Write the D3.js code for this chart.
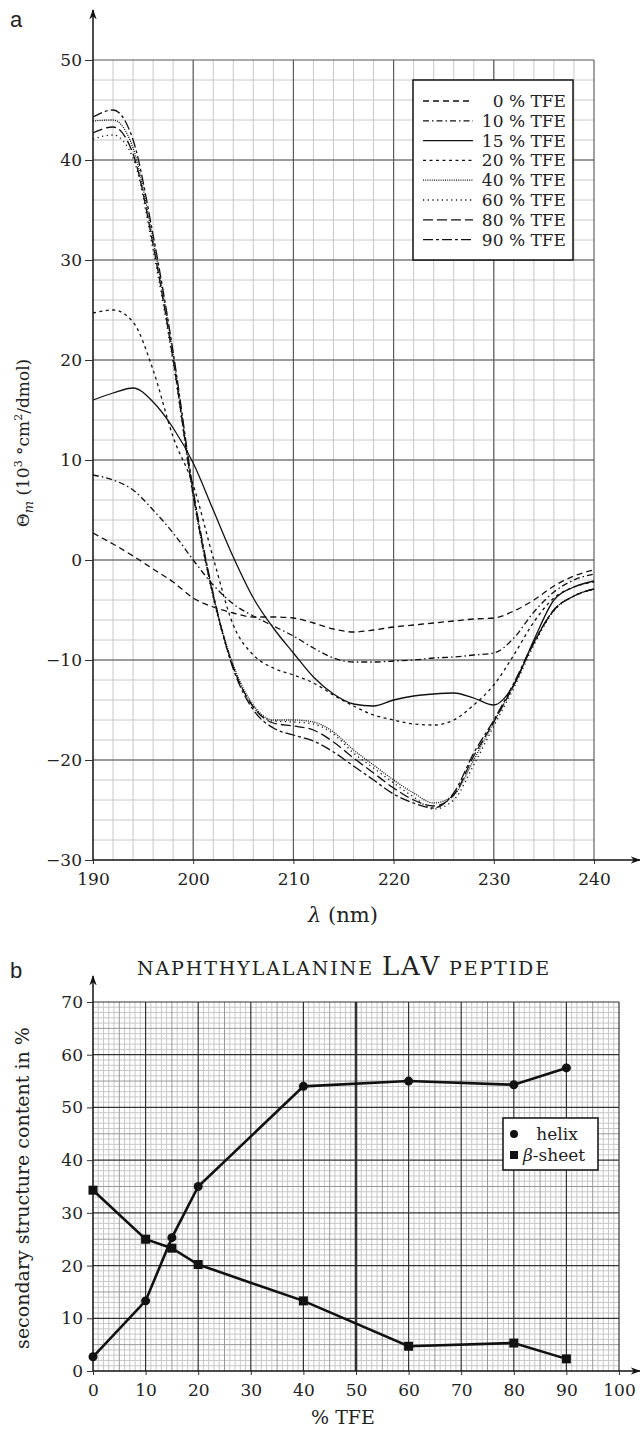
<!DOCTYPE html>
<html>
<head>
<meta charset="utf-8">
<script src="https://cdn.jsdelivr.net/npm/d3@7"></script>
<style>
  body { margin: 0; background: #fff; }
  svg text { font-family: "DejaVu Serif", serif; fill: #222; }
</style>
</head>
<body>
<svg id="chart" width="640" height="1432"></svg>
<script>
// ---- panel a: CD spectra ----
const wavelengths = [190,192,194,196,198,200,202,204,206,208,210,212,214,216,218,220,222,224,226,228,230,232,234,236,238,240];
const tfe0  = [2.7,1.6,0.4,-0.9,-2.2,-3.8,-4.7,-5.3,-5.7,-5.7,-5.8,-6.3,-6.9,-7.2,-7.0,-6.7,-6.5,-6.3,-6.1,-5.9,-5.8,-5.1,-4.0,-2.6,-1.6,-1.0];
const tfe10 = [8.5,8.0,7.0,5.0,2.7,0.0,-2.5,-4.4,-5.6,-6.6,-7.6,-8.8,-9.8,-10.2,-10.2,-10.1,-10.0,-9.8,-9.7,-9.5,-9.3,-7.8,-5.2,-3.2,-2.0,-1.4];
const tfe15 = [16.0,16.7,17.2,15.8,13.2,9.7,5.0,0.3,-3.8,-6.8,-9.3,-11.7,-13.4,-14.4,-14.6,-14.0,-13.6,-13.4,-13.3,-13.8,-14.5,-12.5,-8.0,-4.0,-2.7,-2.1];
const tfe20 = [24.7,25.0,23.8,19.0,12.3,7.5,0.2,-6.5,-9.5,-10.8,-11.5,-12.3,-13.5,-14.6,-15.5,-16.0,-16.4,-16.5,-16.0,-14.5,-12.5,-9.5,-6.2,-3.8,-2.7,-2.2];
const tfe40 = [43.9,44.0,41.2,32.0,20.5,6.8,-3.5,-10.5,-14.5,-16.0,-16.0,-16.2,-17.2,-19.0,-20.5,-22.0,-23.3,-24.3,-23.5,-20.0,-16.2,-12.5,-8.3,-5.0,-3.6,-2.9];
const tfe60 = [42.1,42.5,40.2,31.0,19.7,6.3,-3.8,-10.8,-14.7,-16.1,-16.2,-16.4,-17.4,-19.3,-20.8,-22.3,-23.7,-24.9,-24.0,-20.5,-16.6,-12.8,-8.5,-5.1,-3.6,-2.9];
const tfe80 = [42.7,43.3,40.6,31.5,20.0,6.5,-3.6,-10.7,-14.7,-16.3,-16.6,-17.0,-18.2,-19.8,-21.3,-22.8,-24.0,-24.6,-23.5,-19.6,-16.2,-12.5,-8.3,-5.0,-3.6,-2.9];
const tfe90 = [44.3,45.0,42.0,32.5,20.8,7.0,-3.4,-10.9,-15.0,-16.8,-17.5,-18.1,-19.2,-20.6,-22.0,-23.4,-24.3,-24.8,-23.3,-19.3,-16.0,-12.3,-8.2,-5.0,-3.6,-2.9];
const spectraLabels = ["0 % TFE","10 % TFE","15 % TFE","20 % TFE","40 % TFE","60 % TFE","80 % TFE","90 % TFE"];
const spectraValues = [tfe0, tfe10, tfe15, tfe20, tfe40, tfe60, tfe80, tfe90];
const dashes = ["6,4", "6,3,1.5,3", null, "3,3.5", "1,1.2", "1.2,3.5", "10,4", "10,3,3,3"];
const xTicksA = [190,200,210,220,230,240];
const yTicksA = [-30,-20,-10,0,10,20,30,40,50];

// ---- panel b: secondary structure ----
const tfePct = [0,10,15,20,40,60,80,90];
const helix  = [2.7,13.3,25.3,35.0,54.0,55.0,54.3,57.5];
const sheet  = [34.3,25.0,23.3,20.2,13.3,4.7,5.3,2.3];
const xTicksB = [0,10,20,30,40,50,60,70,80,90,100];
const yTicksB = [0,10,20,30,40,50,60,70];

const serif = "DejaVu Serif";
const svg = d3.select("#chart");

// arrow marker
svg.append("defs").append("marker")
  .attr("id", "arrow").attr("viewBox", "0 0 10 10").attr("refX", 9).attr("refY", 5)
  .attr("markerWidth", 7).attr("markerHeight", 7).attr("orient", "auto-start-reverse")
  .append("path").attr("d", "M0,1.5 L10,5 L0,8.5 L3,5 Z").attr("fill", "#111");

function styleAxis(a) {
  a.select(".domain").remove();
  a.selectAll(".tick line").attr("stroke", "#333");
  a.selectAll(".tick text").attr("font-size", 17).attr("font-family", serif).attr("fill", "#222");
}

// ================= panel a =================
const xA = d3.scaleLinear().domain([190, 240]).range([93, 594]);
const yA = d3.scaleLinear().domain([-30, 50]).range([860, 60]);
const gA = svg.append("g");

// minor grid
gA.selectAll(".vminA").data(d3.range(192, 240, 2)).join("line")
  .attr("x1", d => xA(d)).attr("x2", d => xA(d)).attr("y1", yA(-30)).attr("y2", yA(50))
  .attr("stroke", "#c8c8c8").attr("stroke-width", 1);
gA.selectAll(".hminA").data(d3.range(-28, 50, 2)).join("line")
  .attr("y1", d => yA(d)).attr("y2", d => yA(d)).attr("x1", xA(190)).attr("x2", xA(240))
  .attr("stroke", "#c8c8c8").attr("stroke-width", 1);
// major grid
gA.selectAll(".vmajA").data(xTicksA.slice(1)).join("line")
  .attr("x1", d => xA(d)).attr("x2", d => xA(d)).attr("y1", yA(-30)).attr("y2", yA(50))
  .attr("stroke", "#555").attr("stroke-width", 1.1);
gA.selectAll(".hmajA").data(yTicksA.slice(1)).join("line")
  .attr("y1", d => yA(d)).attr("y2", d => yA(d)).attr("x1", xA(190)).attr("x2", xA(240))
  .attr("stroke", "#555").attr("stroke-width", 1.1);

// axes with arrows
gA.append("line").attr("x1", xA(190)).attr("x2", xA(190)).attr("y1", yA(-30)).attr("y2", 10)
  .attr("stroke", "#111").attr("stroke-width", 1.5).attr("marker-end", "url(#arrow)");
gA.append("line").attr("x1", xA(190)).attr("x2", 640).attr("y1", yA(-30)).attr("y2", yA(-30))
  .attr("stroke", "#111").attr("stroke-width", 1.5).attr("marker-end", "url(#arrow)");

styleAxis(gA.append("g").attr("transform", `translate(${xA(190)},0)`)
  .call(d3.axisLeft(yA).tickValues(yTicksA).tickSize(8).tickPadding(3)
    .tickFormat(d => d < 0 ? "\u2212" + Math.abs(d) : d)));
styleAxis(gA.append("g").attr("transform", `translate(0,${yA(-30)})`)
  .call(d3.axisBottom(xA).tickValues(xTicksA).tickSize(4).tickPadding(9)));

// curves
const lineA = d3.line().x((d, i) => xA(wavelengths[i])).y(d => yA(d)).curve(d3.curveMonotoneX);
spectraValues.forEach((vals, k) => {
  gA.append("path").datum(vals).attr("d", lineA)
    .attr("fill", "none").attr("stroke", "#111").attr("stroke-width", 1.3)
    .attr("stroke-dasharray", dashes[k]);
});

// legend
const legA = gA.append("g");
legA.append("rect").attr("x", 413).attr("y", 80).attr("width", 160).attr("height", 180)
  .attr("fill", "#fff").attr("stroke", "#111").attr("stroke-width", 1.5);
spectraLabels.forEach((lab, k) => {
  const yy = 101 + k * 19.8;
  legA.append("line").attr("x1", 423).attr("x2", 473).attr("y1", yy).attr("y2", yy)
    .attr("stroke", "#111").attr("stroke-width", 1.3).attr("stroke-dasharray", dashes[k]);
  legA.append("text").attr("x", 566).attr("y", yy + 6).attr("text-anchor", "end")
    .attr("font-size", 17).text(lab);
});

// labels
svg.append("text").attr("x", 10).attr("y", 27).attr("font-size", 22)
  .style("font-family", "Liberation Sans, Arial, sans-serif").text("a");
svg.append("text").attr("x", 343).attr("y", 922).attr("text-anchor", "middle").attr("font-size", 21)
  .html('<tspan font-style="italic">λ</tspan> (nm)');
svg.append("text").attr("transform", "translate(29,443) rotate(-90)").attr("text-anchor", "middle")
  .attr("font-size", 17)
  .html('Θ<tspan font-style="italic" font-size="13" dy="4">m</tspan><tspan dy="-4"> (10</tspan><tspan font-size="11" dy="-7">3</tspan><tspan dy="7"> °cm</tspan><tspan font-size="11" dy="-7">2</tspan><tspan dy="7">/dmol)</tspan>');

// ================= panel b =================
const xB = d3.scaleLinear().domain([0, 100]).range([93, 619]);
const yB = d3.scaleLinear().domain([0, 70]).range([1371, 1002]);
const gB = svg.append("g");

const minorB = d3.range(1, 100).filter(d => d % 5 !== 0);
const midB = d3.range(5, 100, 10);
gB.selectAll(".vminB").data(minorB).join("line")
  .attr("x1", d => xB(d)).attr("x2", d => xB(d)).attr("y1", yB(0)).attr("y2", yB(70))
  .attr("stroke", "#c8c8c8").attr("stroke-width", 1);
gB.selectAll(".hminB").data(d3.range(1, 70).filter(d => d % 5 !== 0)).join("line")
  .attr("y1", d => yB(d)).attr("y2", d => yB(d)).attr("x1", xB(0)).attr("x2", xB(100))
  .attr("stroke", "#c8c8c8").attr("stroke-width", 1);
gB.selectAll(".vmidB").data(midB).join("line")
  .attr("x1", d => xB(d)).attr("x2", d => xB(d)).attr("y1", yB(0)).attr("y2", yB(70))
  .attr("stroke", "#999").attr("stroke-width", 1);
gB.selectAll(".hmidB").data(d3.range(5, 70, 10)).join("line")
  .attr("y1", d => yB(d)).attr("y2", d => yB(d)).attr("x1", xB(0)).attr("x2", xB(100))
  .attr("stroke", "#999").attr("stroke-width", 1);
gB.selectAll(".vmajB").data(xTicksB.slice(1)).join("line")
  .attr("x1", d => xB(d)).attr("x2", d => xB(d)).attr("y1", yB(0)).attr("y2", yB(70))
  .attr("stroke", "#333").attr("stroke-width", d => d === 50 ? 2.6 : 1.2);
gB.selectAll(".hmajB").data(yTicksB.slice(1)).join("line")
  .attr("y1", d => yB(d)).attr("y2", d => yB(d)).attr("x1", xB(0)).attr("x2", xB(100))
  .attr("stroke", "#333").attr("stroke-width", 1.2);

gB.append("line").attr("x1", xB(0)).attr("x2", xB(0)).attr("y1", yB(0)).attr("y2", 976)
  .attr("stroke", "#111").attr("stroke-width", 1.5).attr("marker-end", "url(#arrow)");
gB.append("line").attr("x1", xB(0)).attr("x2", 640).attr("y1", yB(0)).attr("y2", yB(0))
  .attr("stroke", "#111").attr("stroke-width", 1.5).attr("marker-end", "url(#arrow)");

styleAxis(gB.append("g").attr("transform", `translate(${xB(0)},0)`)
  .call(d3.axisLeft(yB).tickValues(yTicksB).tickSize(6).tickPadding(4)));
styleAxis(gB.append("g").attr("transform", `translate(0,${yB(0)})`)
  .call(d3.axisBottom(xB).tickValues(xTicksB).tickSize(4).tickPadding(9)));

const lineB = d3.line().x((d, i) => xB(tfePct[i])).y(d => yB(d));
[helix, sheet].forEach(vals => {
  gB.append("path").datum(vals).attr("d", lineB)
    .attr("fill", "none").attr("stroke", "#111").attr("stroke-width", 2.6);
});
gB.selectAll(".hpt").data(helix).join("circle")
  .attr("cx", (d, i) => xB(tfePct[i])).attr("cy", d => yB(d)).attr("r", 4.5).attr("fill", "#111");
gB.selectAll(".spt").data(sheet).join("rect")
  .attr("x", (d, i) => xB(tfePct[i]) - 4.5).attr("y", d => yB(d) - 4.5)
  .attr("width", 9).attr("height", 9).attr("fill", "#111");

// legend b
const legB = gB.append("g");
legB.append("rect").attr("x", 503).attr("y", 1118).attr("width", 95).attr("height", 52)
  .attr("fill", "#fff").attr("stroke", "#111").attr("stroke-width", 1.5);
legB.append("circle").attr("cx", 514).attr("cy", 1134).attr("r", 4).attr("fill", "#111");
legB.append("rect").attr("x", 510).attr("y", 1151).attr("width", 8).attr("height", 8).attr("fill", "#111");
legB.append("text").attr("x", 557).attr("y", 1140).attr("text-anchor", "middle").attr("font-size", 17).text("helix");
legB.append("text").attr("x", 523).attr("y", 1161).attr("font-size", 17)
  .html('<tspan font-style="italic">β</tspan>-sheet');

// title and labels b
svg.append("text").attr("x", 343).attr("y", 975).attr("text-anchor", "middle")
  .attr("textLength", 412).attr("lengthAdjust", "spacing")
  .html('<tspan font-size="19">NAPHTHYLALANINE </tspan><tspan font-size="26">LAV</tspan><tspan font-size="19"> PEPTIDE</tspan>');
svg.append("text").attr("x", 10).attr("y", 978).attr("font-size", 22)
  .style("font-family", "Liberation Sans, Arial, sans-serif").text("b");
svg.append("text").attr("x", 343).attr("y", 1424).attr("text-anchor", "middle").attr("font-size", 19).text("% TFE");
svg.append("text").attr("transform", "translate(29,1188) rotate(-90)").attr("text-anchor", "middle")
  .attr("font-size", 19).text("secondary structure content in %");
</script>
</body>
</html>
